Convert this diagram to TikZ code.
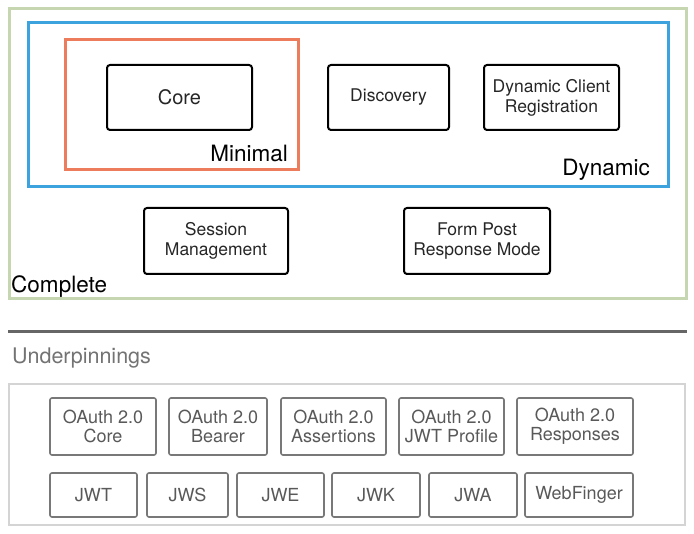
\documentclass[tikz,border=0pt]{standalone}
\usepackage{fontspec}
\setmainfont{TeX Gyre Heros}
\usepackage{tikz}

\definecolor{completeGreen}{RGB}{198,214,176}
\definecolor{dynamicBlue}{RGB}{60,163,222}
\definecolor{minimalOrange}{RGB}{236,124,92}
\definecolor{baseGray}{RGB}{120,120,120}
\definecolor{frameGray}{RGB}{212,212,212}

\begin{document}
\begin{tikzpicture}[x=1pt, y=-1pt,
            every node/.style={font=\fontsize{17.5}{20}\selectfont}]
            \tikzstyle{specBox} = [draw=black, line width=2, rounded corners=3,
                                   align=center, inner sep=0, text=black!85]
            \tikzstyle{baseBox} = [draw=baseGray, line width=1.6, rounded corners=2,
                                   align=center, inner sep=0, text=black!65,
                                   font=\fontsize{18}{19}\selectfont]
            \tikzstyle{groupLabel} = [inner sep=0, font=\fontsize{22.5}{24}\selectfont]
            \useasboundingbox (0,0) rectangle (694,534);
            % profile groups
            \draw[completeGreen, line width=3] (9,9) rectangle (686,299);
            \draw[dynamicBlue, line width=3] (28,23) rectangle (668,187);
            \draw[minimalOrange, line width=3] (65,40) rectangle (298,170);
            \node[groupLabel, anchor=east] (minimal) at (288,153) {Minimal};
            \node[groupLabel, anchor=east] (dynamic) at (650,170) {Dynamic};
            \node[groupLabel, anchor=west] (complete) at (11,287) {Complete};
            % specs
            \node[specBox, minimum width=145, minimum height=65,
                  font=\fontsize{20}{22}\selectfont] (core) at (179.5,97.5) {Core};
            \node[specBox, minimum width=121, minimum height=65] (discovery) at (388.5,97.5) {Discovery};
            \node[specBox, minimum width=135, minimum height=65] (dcr) at (551.5,97.5) {Dynamic Client\\Registration};
            \node[specBox, minimum width=144, minimum height=66] (session) at (216,241) {Session\\Management};
            \node[specBox, minimum width=146, minimum height=66] (formpost) at (477,241) {Form Post\\Response Mode};
            % underpinnings
            \draw[black!60, line width=3] (8,332) -- (687,332);
            \node[inner sep=0, anchor=west, text=black!55, font=\fontsize{21.5}{23}\selectfont]
                (under) at (12,358) {Underpinnings};
            \draw[frameGray, line width=2.5] (9,384) rectangle (685,525);
            \foreach \name/\x/\w/\txt in {oacore/103/106/{OAuth 2.0\\Core},
                                          oabearer/218/98/{OAuth 2.0\\Bearer},
                                          oaassert/333.5/105/{OAuth 2.0\\Assertions},
                                          oajwt/451.5/105/{OAuth 2.0\\JWT Profile},
                                          oaresp/575/116/{OAuth 2.0\\Responses}}
                \node[baseBox, minimum width=\w, minimum height=57] (\name) at (\x,426.5) {\txt};
            \foreach \name/\x/\w/\txt in {jwt/93.5/87/JWT, jws/187.5/81/JWS,
                                          jwe/280.5/87/JWE, jwk/376/88/JWK,
                                          jwa/473/88/JWA, webfinger/579/108/WebFinger}
                \node[baseBox, minimum width=\w, minimum height=44] (\name) at (\x,495) {\txt};
        \end{tikzpicture}
\end{document}
